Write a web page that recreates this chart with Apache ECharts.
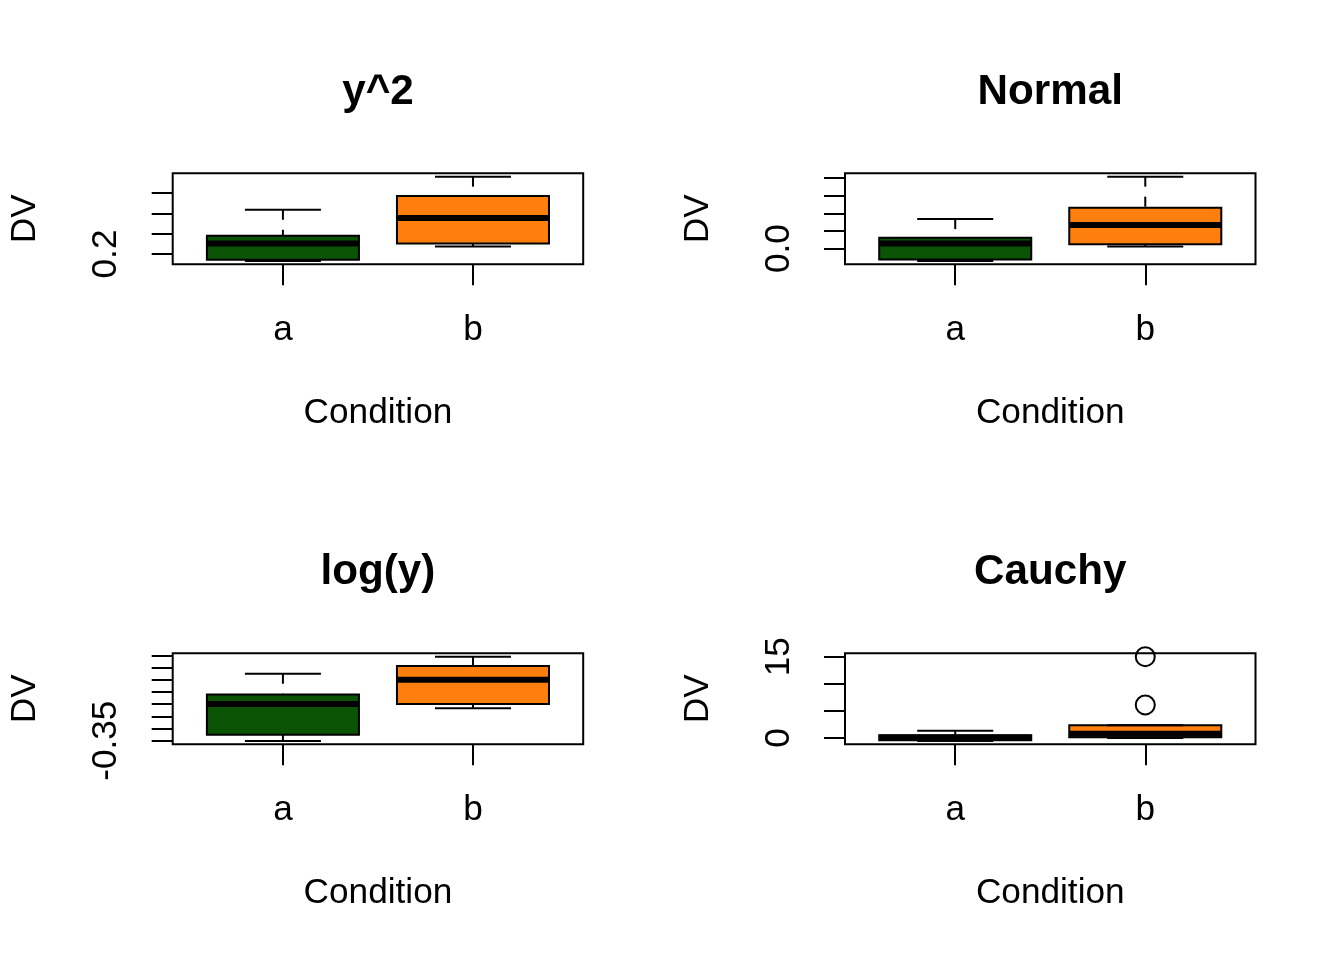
<!DOCTYPE html>
<html><head><meta charset="utf-8">
<script src="https://cdn.jsdelivr.net/npm/echarts@6/dist/echarts.min.js"></script>
<style>html,body{margin:0;padding:0;background:#fff}#c{width:1344px;height:960px}</style>
</head><body><div id="c"></div>
<script>
// ---- data ----
const categories = ['a', 'b'];
const panelTitles = ['y^2', 'Normal', 'log(y)', 'Cauchy'];
// stats per group: [lower whisker, Q1, median, Q3, upper whisker]
const y2Stats = [[0.166, 0.172, 0.252, 0.290, 0.418], [0.237, 0.252, 0.377, 0.485, 0.580]];
const normalStats = [[-0.349, -0.312, 0.142, 0.304, 0.835], [0.057, 0.125, 0.665, 1.156, 2.037]];
const logStats = [[-0.351, -0.326, -0.199, -0.160, -0.075], [-0.217, -0.199, -0.100, -0.043, -0.005]];
const cauchyStats = [[-0.54, -0.40, 0.10, 0.50, 1.35], [0.00, 0.15, 0.80, 2.35, 2.35]];
const y2Outliers = [[], []];
const normalOutliers = [[], []];
const logOutliers = [[], []];
const cauchyOutliers = [[], [6.1, 15.0]];
// tick values and labelled ticks
const y2Ticks = [0.2, 0.3, 0.4, 0.5];
const y2Labels = [0.2];
const normalTicks = [0, 0.5, 1, 1.5, 2];
const normalLabels = [0];
const logTicks = [-0.35, -0.3, -0.25, -0.2, -0.15, -0.1, -0.05, 0];
const logLabels = [-0.35];
const cauchyTicks = [0, 5, 10, 15];
const cauchyLabels = [0, 15];

const boxColors = ['#0b5305', '#ff7f0e'];
const FONT = "'Liberation Sans', Arial, Helvetica, sans-serif";
const FS = 35.2;

const panels = [
  { stats: y2Stats, out: y2Outliers, ticks: y2Ticks, labels: y2Labels, dec: 1 },
  { stats: normalStats, out: normalOutliers, ticks: normalTicks, labels: normalLabels, dec: 1 },
  { stats: logStats, out: logOutliers, ticks: logTicks, labels: logLabels, dec: 2 },
  { stats: cauchyStats, out: cauchyOutliers, ticks: cauchyTicks, labels: cauchyLabels, dec: 0 }
];
const gridPos = [
  { left: 172.7, top: 173.3 }, { left: 845, top: 173.3 },
  { left: 172.7, top: 653.3 }, { left: 845, top: 653.3 }
];
const GW = 410.5, GH = 91;

function renderBox(params, api) {
  const x = api.value(0);
  const pMin = api.coord([x, api.value(1)]);
  const pQ1 = api.coord([x, api.value(2)]);
  const pMed = api.coord([x, api.value(3)]);
  const pQ3 = api.coord([x, api.value(4)]);
  const pMax = api.coord([x, api.value(5)]);
  const w = api.size([0.8, 0])[0];
  const cx = pMed[0], hw = w / 2, cw = w / 4;
  const fill = boxColors[Math.round(x) - 1];
  const dash = { stroke: '#000', lineWidth: 2, lineDash: [10, 10], fill: null };
  const solid = { stroke: '#000', lineWidth: 2, fill: null };
  return {
    type: 'group', children: [
      { type: 'rect', shape: { x: cx - hw, y: pQ3[1], width: w, height: pQ1[1] - pQ3[1] },
        style: { fill: fill, stroke: '#000', lineWidth: 2 } },
      { type: 'line', shape: { x1: cx - hw, y1: pMed[1], x2: cx + hw, y2: pMed[1] },
        style: { stroke: '#000', lineWidth: 6 } },
      { type: 'line', shape: { x1: cx, y1: pMin[1], x2: cx, y2: pQ1[1] }, style: dash },
      { type: 'line', shape: { x1: cx, y1: pMax[1], x2: cx, y2: pQ3[1] }, style: dash },
      { type: 'line', shape: { x1: cx - cw, y1: pMin[1], x2: cx + cw, y2: pMin[1] }, style: solid },
      { type: 'line', shape: { x1: cx - cw, y1: pMax[1], x2: cx + cw, y2: pMax[1] }, style: solid }
    ]
  };
}

const grid = [], xAxis = [], yAxis = [], series = [], graphic = [];
panels.forEach((p, i) => {
  const all = [];
  p.stats.forEach(s => all.push(...s));
  p.out.forEach(o => all.push(...o));
  const lo = Math.min(...all), hi = Math.max(...all), ext = (hi - lo) * 0.04;
  grid.push({ left: gridPos[i].left, top: gridPos[i].top, width: GW, height: GH,
    show: true, borderColor: '#000', borderWidth: 2, backgroundColor: 'transparent',
    containLabel: false, outerBoundsMode: 'none' });
  xAxis.push({
    type: 'value', gridIndex: i, min: 0.42, max: 2.58, position: 'bottom',
    axisLine: { show: false, onZero: false }, splitLine: { show: false },
    axisTick: { show: true, customValues: [1, 2], length: 21, lineStyle: { color: '#000', width: 2 } },
    axisLabel: { show: true, customValues: [1, 2], margin: 48.5, color: '#000', fontSize: FS, fontFamily: FONT,
      formatter: v => categories[Math.round(v) - 1] },
    name: 'Condition', nameLocation: 'middle', nameGap: 131, nameMoveOverlap: false,
    nameTextStyle: { color: '#000', fontSize: FS, fontFamily: FONT }
  });
  yAxis.push({
    type: 'value', gridIndex: i, min: lo - ext, max: hi + ext, position: 'left',
    axisLine: { show: false, onZero: false }, splitLine: { show: false },
    axisTick: { show: true, customValues: p.ticks, length: 21, lineStyle: { color: '#000', width: 2 } },
    axisLabel: { show: true, customValues: p.labels, rotate: 90, margin: 48.5, color: '#000', fontSize: FS,
      fontFamily: FONT, formatter: v => Number(v).toFixed(p.dec) },
    name: 'DV', nameLocation: 'middle', nameGap: 129.5, nameMoveOverlap: false,
    nameTextStyle: { color: '#000', fontSize: FS, fontFamily: FONT }
  });
  series.push({
    type: 'custom', xAxisIndex: i, yAxisIndex: i, renderItem: renderBox, silent: true,
    encode: { x: 0, y: [1, 2, 3, 4, 5] },
    data: p.stats.map((s, k) => [k + 1, ...s])
  });
  const outPts = [];
  p.out.forEach((o, k) => o.forEach(v => outPts.push([k + 1, v])));
  if (outPts.length) {
    series.push({
      type: 'scatter', xAxisIndex: i, yAxisIndex: i, silent: true, symbol: 'circle', symbolSize: 19,
      itemStyle: { color: 'rgba(0,0,0,0)', borderColor: '#000', borderWidth: 2, opacity: 1 },
      data: outPts
    });
  }
  graphic.push({
    type: 'text', x: gridPos[i].left + GW / 2, y: gridPos[i].top - 81, silent: true,
    style: { text: panelTitles[i], fill: '#000', font: 'bold 42.2px ' + FONT, textAlign: 'center', textVerticalAlign: 'middle' }
  });
});

const chart = echarts.init(document.getElementById('c'), null, { renderer: 'canvas' });
chart.setOption({ animation: false, backgroundColor: '#fff', grid, xAxis, yAxis, series, graphic });
</script></body></html>
